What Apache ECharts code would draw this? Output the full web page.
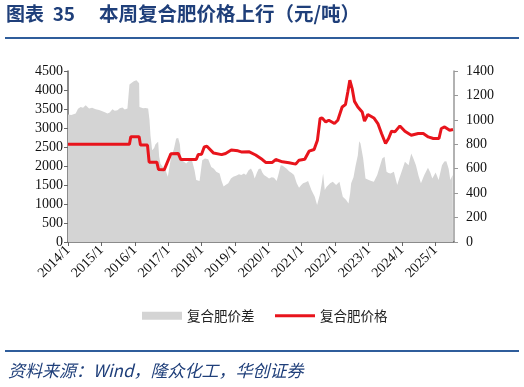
<!DOCTYPE html>
<html>
<head>
<meta charset="utf-8">
<script src="https://cdn.jsdelivr.net/npm/echarts@6/dist/echarts.min.js"></script>
<style>
html,body{margin:0;padding:0;background:#fff;}
#chart{width:524px;height:387px;}
</style>
</head>
<body>
<div id="chart"></div>
<script>
// x values are decimal years (2014.0 = 2014/1)
var priceYears = [2014.00,2015.84,2015.88,2016.13,2016.17,2016.38,2016.43,2016.66,2016.71,2016.88,2016.98,2017.08,2017.30,2017.38,2017.84,2017.90,2018.00,2018.08,2018.16,2018.36,2018.60,2018.72,2018.89,2019.09,2019.19,2019.43,2019.62,2019.82,2019.92,2020.12,2020.22,2020.42,2020.62,2020.82,2020.92,2021.09,2021.22,2021.37,2021.47,2021.55,2021.61,2021.72,2021.81,2021.98,2022.08,2022.21,2022.31,2022.38,2022.44,2022.51,2022.58,2022.68,2022.81,2022.88,2022.98,2023.16,2023.28,2023.39,2023.51,2023.60,2023.69,2023.79,2023.94,2024.09,2024.28,2024.49,2024.64,2024.79,2024.94,2025.11,2025.18,2025.28,2025.43,2025.53];
var priceValues = [2570,2570,2770,2770,2550,2550,2100,2100,1910,1900,2110,2320,2330,2170,2170,2300,2310,2500,2520,2340,2300,2330,2420,2400,2370,2372,2290,2170,2094,2094,2170,2110,2084,2050,2154,2180,2390,2435,2680,3250,3265,3160,3205,3118,3205,3555,3617,3948,4256,4037,3700,3555,3423,3179,3355,3265,3118,2855,2593,2724,2916,2898,3055,2916,2811,2855,2855,2766,2724,2724,2987,3029,2942,2960];

var spreadYears = [2014.00,2014.10,2014.23,2014.30,2014.38,2014.45,2014.53,2014.63,2014.72,2014.83,2014.93,2015.03,2015.12,2015.18,2015.25,2015.33,2015.40,2015.48,2015.55,2015.63,2015.70,2015.78,2015.82,2015.84,2015.97,2016.05,2016.10,2016.13,2016.14,2016.25,2016.32,2016.40,2016.44,2016.47,2016.52,2016.58,2016.62,2016.70,2016.73,2016.77,2016.84,2016.92,2016.99,2017.04,2017.09,2017.17,2017.24,2017.30,2017.35,2017.39,2017.46,2017.54,2017.60,2017.66,2017.72,2017.79,2017.84,2017.94,2017.98,2018.02,2018.10,2018.20,2018.29,2018.37,2018.44,2018.54,2018.60,2018.66,2018.72,2018.80,2018.88,2018.95,2019.05,2019.12,2019.19,2019.27,2019.33,2019.41,2019.48,2019.54,2019.59,2019.66,2019.71,2019.77,2019.82,2019.87,2019.95,2020.02,2020.10,2020.17,2020.25,2020.31,2020.37,2020.43,2020.47,2020.55,2020.62,2020.70,2020.77,2020.85,2020.92,2020.98,2021.04,2021.12,2021.19,2021.22,2021.29,2021.39,2021.46,2021.54,2021.60,2021.64,2021.69,2021.74,2021.78,2021.85,2021.93,2022.03,2022.08,2022.13,2022.18,2022.23,2022.33,2022.40,2022.45,2022.48,2022.55,2022.61,2022.68,2022.72,2022.76,2022.84,2022.91,2023.01,2023.08,2023.16,2023.26,2023.34,2023.41,2023.48,2023.54,2023.60,2023.66,2023.76,2023.81,2023.86,2023.92,2023.99,2024.09,2024.20,2024.24,2024.28,2024.35,2024.42,2024.50,2024.57,2024.67,2024.78,2024.85,2024.91,2025.01,2025.10,2025.20,2025.27,2025.33,2025.40,2025.45,2025.52,2025.53];
var spreadValues = [1044,1040,1052,1090,1106,1100,1120,1093,1100,1087,1080,1070,1060,1052,1060,1087,1075,1079,1095,1101,1085,1093,1100,1289,1316,1325,1332,1300,1106,1095,1098,1093,1000,875,752,770,800,820,700,640,615,590,534,620,697,760,847,852,800,670,660,643,660,670,662,588,507,500,493,670,684,678,615,600,575,560,500,455,466,480,520,534,545,555,548,560,548,588,602,570,520,570,597,602,570,548,535,520,530,526,499,560,629,625,615,600,580,565,548,480,444,465,480,490,499,507,425,370,302,384,480,561,425,450,466,480,493,466,480,493,430,370,343,316,400,480,530,620,711,825,806,684,520,507,500,493,548,620,684,697,575,565,561,575,520,466,520,575,656,629,680,725,680,629,540,480,548,607,570,520,570,507,629,660,662,600,507,548,540];

var leftTicks = {min:0, max:4500, interval:500};
var rightTicks = {min:0, max:1400, interval:200};
var xRange = {min:2014, max:2025.56, interval:1};

var seriesNames = ['复合肥价差','复合肥价格'];
var titleText1 = '图表  35';
var titleText2 = '本周复合肥价格上行（元/吨）';
var sourceText = '资料来源：Wind，隆众化工，华创证券';

function zip(xs, ys){ return xs.map(function(x,i){ return [x, ys[i]]; }); }

var chart = echarts.init(document.getElementById('chart'), null, {renderer:'canvas'});
var numFont = '"Liberation Serif","Times New Roman",serif';
var cjk = '"Noto Sans CJK SC","Noto Sans",sans-serif';
var plain = function(v){ return String(v); };

chart.setOption({
  animation:false,
  backgroundColor:'#ffffff',
  title:[
    {text:titleText1, left:6, top:4, padding:0, textStyle:{fontFamily:cjk, fontSize:19, fontWeight:'bold', color:'#1f3f7a'}},
    {text:titleText2, left:99, top:4, padding:0, textStyle:{fontFamily:cjk, fontSize:19.5, fontWeight:'bold', color:'#1f3f7a'}},
    {text:sourceText, left:8, top:362, padding:0, textStyle:{fontFamily:cjk, fontSize:17, fontStyle:'italic', fontWeight:'normal', color:'#1f3f7a'}}
  ],
  graphic:[
    {type:'rect', shape:{x:5, y:37, width:514, height:2}, style:{fill:'#2f5d9b'}},
    {type:'rect', shape:{x:5, y:350, width:514, height:2}, style:{fill:'#2f5d9b'}}
  ],
  legend:[
    {left:142, top:309, padding:0, itemWidth:40, itemHeight:8, itemGap:0,
     textStyle:{fontFamily:cjk, fontSize:13.5, color:'#222'},
     data:[{name:seriesNames[0], icon:'rect'}]},
    {left:275, top:309, padding:0, itemWidth:40, itemHeight:3, itemGap:0,
     textStyle:{fontFamily:cjk, fontSize:13.5, color:'#222'},
     data:[{name:seriesNames[1], icon:'rect'}]}
  ],
  grid:{left:68, right:70, top:71, bottom:145, containLabel:false},
  xAxis:{
    type:'value', min:xRange.min, max:xRange.max, interval:xRange.interval,
    axisLine:{lineStyle:{color:'#666', width:1.5}},
    axisTick:{show:true, length:4, lineStyle:{color:'#666'}},
    splitLine:{show:false},
    axisLabel:{rotate:45, fontFamily:numFont, fontSize:14, color:'#111', margin:6, showMaxLabel:false,
      formatter:function(v){ return Math.round(v) + '/1'; }}
  },
  yAxis:[
    {type:'value', min:leftTicks.min, max:leftTicks.max, interval:leftTicks.interval, position:'left',
     axisLine:{show:true, lineStyle:{color:'#666', width:1.5}},
     axisTick:{show:true, length:4, lineStyle:{color:'#666'}},
     splitLine:{show:false},
     axisLabel:{fontFamily:numFont, fontSize:14, color:'#111', margin:5, formatter:plain}},
    {type:'value', min:rightTicks.min, max:rightTicks.max, interval:rightTicks.interval, position:'right',
     axisLine:{show:true, lineStyle:{color:'#999', width:1.5}},
     axisTick:{show:true, length:4, lineStyle:{color:'#999'}},
     splitLine:{show:false},
     axisLabel:{fontFamily:numFont, fontSize:14, color:'#111', margin:12, formatter:plain}}
  ],
  series:[
    {name:seriesNames[0], type:'line', yAxisIndex:1, data:zip(spreadYears, spreadValues),
     showSymbol:false, symbol:'none', lineStyle:{width:0, color:'#d4d4d4'},
     itemStyle:{color:'#d4d4d4'},
     areaStyle:{color:'#d4d4d4', opacity:1}, z:1},
    {name:seriesNames[1], type:'line', yAxisIndex:0, data:zip(priceYears, priceValues),
     showSymbol:false, symbol:'none', lineStyle:{width:3, color:'#e8141c'},
     itemStyle:{color:'#e8141c'}, z:3}
  ]
});
</script>
</body>
</html>
